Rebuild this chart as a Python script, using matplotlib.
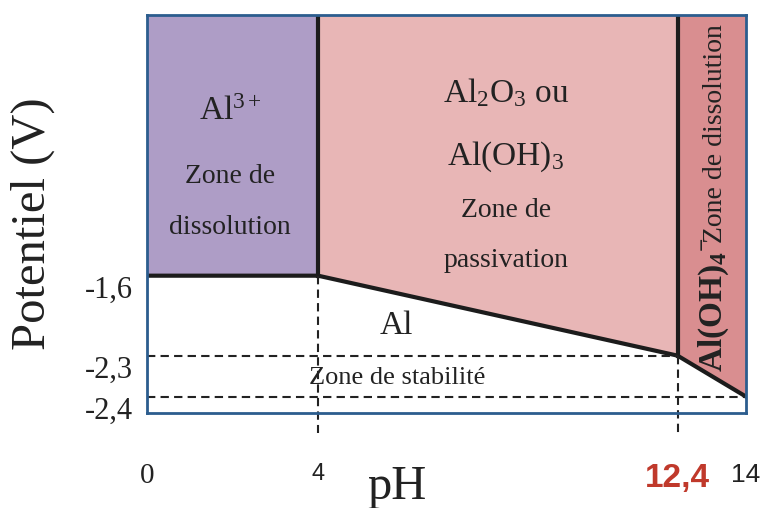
import numpy as np
import matplotlib
matplotlib.use('Agg')
import matplotlib.pyplot as plt

plt.rcParams['font.family'] = 'Liberation Serif'
plt.rcParams['mathtext.fontset'] = 'custom'
plt.rcParams['mathtext.rm'] = 'Liberation Serif'
plt.rcParams['mathtext.it'] = 'Liberation Serif:italic'
plt.rcParams['mathtext.bf'] = 'Liberation Serif:bold'

# domain boundaries (pH, potential in V)
ph_bound = [0, 4, 12.4, 14]
E_bound = [-1.6, -1.6, -2.3, -2.4]
E_top = 0.69
E_bot = -2.44

ph_ticks = [0, 4, 12.4, 14]
ph_labels = ['0', '4', '12,4', '14']
E_ticks = [-1.6, -2.3, -2.4]
E_labels = ['-1,6', '-2,3', '-2,4']

# the potential axis of the diagram is schematic, not to scale
scale_E = [-2.6, -2.4, -2.3, -1.6, 0.7]
scale_pos = [-66, 16, 57, 137, 399]


def fwd(v):
    return np.interp(v, scale_E, scale_pos)


def inv(p):
    return np.interp(p, scale_pos, scale_E)


txt = '#222222'
fig = plt.figure(figsize=(7.71, 5.08), dpi=100)
ax = fig.add_axes([147 / 771, 1 - 413 / 508, 599 / 771, 398 / 508])
ax.set_yscale('function', functions=(fwd, inv))
ax.set_xlim(0, 14)
ax.set_ylim(E_bot, E_top)

# zones
ax.fill_between(ph_bound[:2], E_bound[:2], E_top, color='#ae9dc6', lw=0)
ax.fill_between(ph_bound[1:3], E_bound[1:3], E_top, color='#e8b6b6', lw=0)
ax.fill_between(ph_bound[2:], E_bound[2:], E_top, color='#d98e90', lw=0)

# boundaries
ax.plot(ph_bound, E_bound, color='#1c1c1c', lw=3, solid_joinstyle='miter')
ax.plot([4, 4], [-1.6, E_top], color='#1c1c1c', lw=3)
ax.plot([12.4, 12.4], [-2.3, E_top], color='#1c1c1c', lw=3)

# dashed guides
dash = dict(color='#222222', lw=1.5, linestyle=(0, (4, 2.5)))
ax.plot([0, 12.4], [-2.3, -2.3], **dash)
ax.plot([0, 14], [-2.4, -2.4], **dash)
ax.plot([4, 4], [-1.6, -2.49], clip_on=False, **dash)
ax.plot([12.4, 12.4], [-2.3, -2.49], clip_on=False, **dash)

for s in ax.spines.values():
    s.set_color('#2c5d8e')
    s.set_linewidth(2)
    s.set_zorder(5)

# ticks
ax.minorticks_off()
ax.set_xticks(ph_ticks, ph_labels)
ax.set_yticks(E_ticks, E_labels)
ax.tick_params(axis='x', length=0, pad=36)
ax.tick_params(axis='y', length=0, pad=10, labelsize=22, labelcolor=txt)
for lbl in ax.get_yticklabels():
    lbl.set_va('top')
xl = ax.get_xticklabels()
xl[0].set_fontsize(21)
xl[0].set_color(txt)
xl[1].set_family('Liberation Sans')
xl[1].set_fontsize(17)
xl[1].set_color(txt)
xl[2].set_family('Liberation Sans')
xl[2].set_fontsize(24)
xl[2].set_weight('bold')
xl[2].set_color('#c0392b')
xl[3].set_family('Liberation Sans')
xl[3].set_fontsize(19)
xl[3].set_color(txt)

# axis titles
fig.text(33 / 771, 1 - 224 / 508, 'Potentiel (V)', rotation=90, ha='center',
         va='center', fontsize=35, color=txt)
fig.text(397 / 771, 1 - 487 / 508, 'pH', ha='center', va='center',
         fontsize=35, color=txt)

# zone labels
T = ax.transAxes
ax.text(0.139, 0.756, r'Al$^{3+}$', transform=T, ha='center', va='center', fontsize=24, color=txt)
ax.text(0.139, 0.595, 'Zone de', transform=T, ha='center', va='center', fontsize=20, color=txt)
ax.text(0.139, 0.467, 'dissolution', transform=T, ha='center', va='center', fontsize=20, color=txt)

ax.text(0.599, 0.804, r'Al$_2$O$_3$ ou', transform=T, ha='center', va='center', fontsize=24, color=txt)
ax.text(0.599, 0.643, r'Al(OH)$_3$', transform=T, ha='center', va='center', fontsize=24, color=txt)
ax.text(0.599, 0.510, 'Zone de', transform=T, ha='center', va='center', fontsize=20, color=txt)
ax.text(0.599, 0.384, 'passivation', transform=T, ha='center', va='center', fontsize=20, color=txt)

ax.text(0.417, 0.218, 'Al', transform=T, ha='center', va='center', fontsize=24, color=txt)
ax.text(0.417, 0.088, 'Zone de stabilité', transform=T, ha='center', va='center', fontsize=19, color=txt)

ax.text(0.960, 0.103, r'Al(OH)$_\mathbf{4}$$^{\mathbf{-}}$', transform=T, rotation=90,
        rotation_mode='anchor', ha='left', va='baseline', fontsize=24,
        fontweight='bold', color=txt)
ax.text(0.960, 0.427, 'Zone de dissolution', transform=T, rotation=90,
        rotation_mode='anchor', ha='left', va='baseline', fontsize=20, color=txt)

fig.savefig('out.png', dpi=100)
